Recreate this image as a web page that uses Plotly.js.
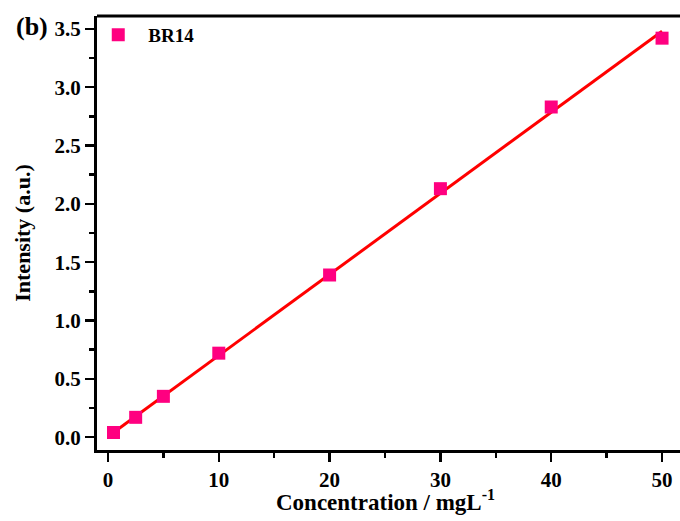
<!DOCTYPE html>
<html><head><meta charset="utf-8">
<script src="https://cdn.plot.ly/plotly-3.0.1.min.js"></script>
<style>html,body{margin:0;padding:0;background:#fff;}#chart{width:680px;height:521px;}</style>
</head><body><div id="chart"></div>
<script>
const concentration = [0.5, 2.5, 5, 10, 20, 30, 40, 50];
const intensity = [0.04, 0.17, 0.35, 0.72, 1.39, 2.13, 2.83, 3.42];
const fitX = [0.5, 50];
const fitY = [0.04, 3.48];
const xTicks = [0, 10, 20, 30, 40, 50];
const yTicks = [0.0, 0.5, 1.0, 1.5, 2.0, 2.5, 3.0, 3.5];

const font = 'Liberation Serif, Times New Roman, serif';
const traces = [
  {x: fitX, y: fitY, mode: 'lines', line: {color: '#ff0000', width: 3}, showlegend: false, hoverinfo: 'skip'},
  {x: concentration, y: intensity, mode: 'markers', name: '<b>BR14</b>',
   marker: {symbol: 'square', size: 13, color: '#ff0080'}}
];
const layout = {
  width: 680, height: 521,
  margin: {l: 97, r: 0, t: 16, b: 71},
  paper_bgcolor: '#fff', plot_bgcolor: '#fff',
  font: {family: font, color: '#000'},
  showlegend: true,
  legend: {x: -0.015, y: 1, xanchor: 'left', yanchor: 'top', itemwidth: 50, bgcolor: 'rgba(0,0,0,0)',
           font: {family: font, size: 19, color: '#000'}},
  xaxis: {
    range: [-0.99, 51.62], showgrid: false, zeroline: false,
    showline: true, linecolor: '#000', linewidth: 3,
    ticks: 'outside', ticklen: 9, tickwidth: 2.5, tickcolor: '#000',
    tickvals: xTicks, ticktext: xTicks.map(v => '<b>' + v + '</b>'),
    tickfont: {family: font, size: 21, color: '#000'},
    minor: {dtick: 5, tick0: 0, ticks: 'outside', ticklen: 5, tickwidth: 2.5, tickcolor: '#000'}
  },
  yaxis: {
    range: [-0.11, 3.61], showgrid: false, zeroline: false,
    showline: true, linecolor: '#000', linewidth: 3,
    ticks: 'outside', ticklen: 9, tickwidth: 2.5, tickcolor: '#000',
    tickvals: yTicks, ticktext: yTicks.map(v => '<b>' + v.toFixed(1) + '</b>'),
    tickfont: {family: font, size: 21, color: '#000'},
    minor: {dtick: 0.25, tick0: 0, ticks: 'outside', ticklen: 5, tickwidth: 2.5, tickcolor: '#000'},
    title: {text: '<b>Intensity (a.u.)</b>', font: {family: font, size: 22, color: '#000'}, standoff: 18}
  },
  shapes: [{type: 'line', xref: 'paper', yref: 'paper', x0: 0, x1: 1, y0: 1, y1: 1, line: {color: '#000', width: 3}}],
  annotations: [
    {xref: 'paper', yref: 'paper', x: -0.08, y: 0.975, xanchor: 'right', yanchor: 'middle',
     text: '<b>(b)</b>', showarrow: false, font: {family: font, size: 26, color: '#000'}},
    {xref: 'paper', yref: 'paper', x: 0.494, y: -0.117, xanchor: 'center', yanchor: 'middle',
     text: '<b>Concentration / mgL<sup>-1</sup></b>', showarrow: false, font: {family: font, size: 23, color: '#000'}}
  ]
};
Plotly.newPlot('chart', traces, layout, {displayModeBar: false, staticPlot: true});
</script></body></html>
